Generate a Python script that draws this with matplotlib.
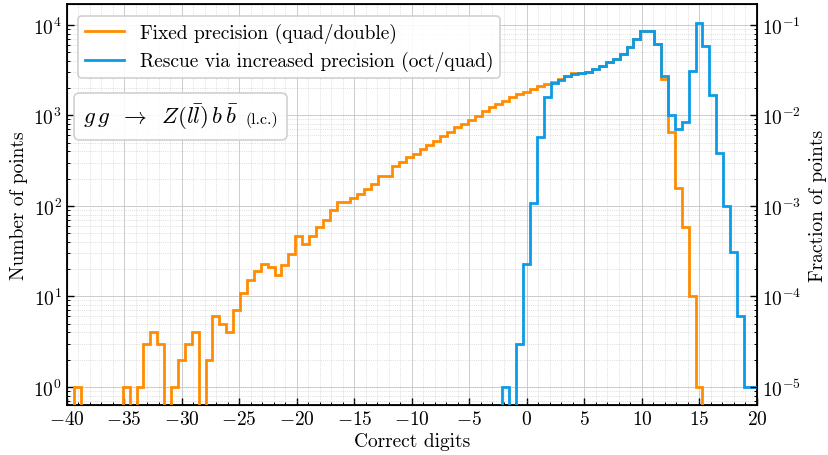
import numpy as np
import matplotlib
matplotlib.use("Agg")
import matplotlib.pyplot as plt
from matplotlib.offsetbox import TextArea, HPacker, AnchoredOffsetbox

plt.rcParams['font.family'] = ['cmr10', 'DejaVu Serif']
plt.rcParams['mathtext.fontset'] = 'cm'
plt.rcParams['axes.formatter.use_mathtext'] = True
plt.rcParams['axes.unicode_minus'] = True

# ---- data -------------------------------------------------------------
bin_lo = -39.33
bin_width = 0.6

fixed_counts = [
    1, 0, 0, 0, 0, 0, 0, 1, 0, 1,
    3, 4, 3, 0, 1, 2, 3, 4, 0, 2,
    6, 5, 4, 7, 11, 15, 19, 23, 21, 17,
    22, 29, 46, 38, 47, 58, 69, 89, 110, 110,
    122, 136, 154, 173, 213, 213, 279, 304, 350, 375,
    423, 470, 527, 594, 662, 737, 805, 892, 995, 1130,
    1230, 1340, 1458, 1615, 1730, 1833, 1963, 2100, 2230, 2360,
    2530, 2750, 2920, 2960, 3050, 3250, 3550, 3870, 4200, 4780,
    5670, 7000, 8650, 8650, 6100, 2530, 655, 157, 58, 10,
    1, 0, 0, 0, 0, 0, 0, 0, 0,
]
rescue_counts = [
    0, 0, 0, 0, 0, 0, 0, 0, 0, 0,
    0, 0, 0, 0, 0, 0, 0, 0, 0, 0,
    0, 0, 0, 0, 0, 0, 0, 0, 0, 0,
    0, 0, 0, 0, 0, 0, 0, 0, 0, 0,
    0, 0, 0, 0, 0, 0, 0, 0, 0, 0,
    0, 0, 0, 0, 0, 0, 0, 0, 0, 0,
    0, 0, 1, 0, 3, 23, 108, 574, 1586, 2250,
    2450, 2690, 2900, 2950, 3050, 3250, 3550, 3870, 4200, 4780,
    5670, 7000, 8650, 8650, 6170, 2750, 1000, 700, 850, 3125,
    10520, 5820, 1686, 385, 99, 31, 6, 1, 1,
]
total_points = 1e5

labels = ["Fixed precision (quad/double)",
          "Rescue via increased precision (oct/quad)"]
colors = ["#ff8c00", "#0c9be6"]

edges = bin_lo + bin_width * np.arange(len(fixed_counts) + 1)

FS = 14

# ---- figure -----------------------------------------------------------
fig = plt.figure(figsize=(8.29, 4.56), dpi=100)
ax = fig.add_axes([0.0805, 0.109, 0.8325, 0.88])
ax.set_yscale('log', nonpositive='clip')

ax.stairs(fixed_counts, edges, baseline=0, color=colors[0], lw=2.0,
          label=labels[0], zorder=3)
ax.stairs(rescue_counts, edges, baseline=0, color=colors[1], lw=2.0,
          label=labels[1], zorder=4)

ylo, yhi = 0.625, 1.7e4
ax.set_xlim(-40, 20)
ax.set_ylim(ylo, yhi)
ax.set_xticks(np.arange(-40, 21, 5))
ax.xaxis.set_minor_locator(matplotlib.ticker.MultipleLocator(1))

ax.grid(True, which='major', color='#c4c4c4', lw=0.6, ls='-', zorder=0)
ax.grid(True, which='minor', color='#c8c8c8', lw=0.5, ls=':', zorder=0)

ax.tick_params(which='both', direction='in', labelsize=FS)
ax.tick_params(which='major', length=5, width=1.0)
ax.tick_params(which='minor', length=2.5, width=0.7)
for s in ax.spines.values():
    s.set_linewidth(1.3)

ax.set_xlabel("Correct digits", fontsize=FS, labelpad=3)
ax.set_ylabel("Number of points", fontsize=FS, labelpad=4)

ax2 = ax.twinx()
ax2.set_yscale('log')
ax2.set_ylim(ylo / total_points, yhi / total_points)
ax2.tick_params(which='both', direction='in', labelsize=FS)
ax2.tick_params(which='major', length=5, width=1.0)
ax2.tick_params(which='minor', length=2.5, width=0.7)
ax2.set_ylabel("Fraction of points", fontsize=FS, labelpad=6)

leg = ax.legend(loc='upper left', bbox_to_anchor=(0.0, 1.0), fontsize=FS,
                frameon=True, fancybox=True, framealpha=0.9,
                edgecolor='#cccccc', handlelength=2.0, borderaxespad=0.6,
                labelspacing=0.45, borderpad=0.35)
leg.get_frame().set_linewidth(1.2)
leg.set_zorder(10)

t1 = TextArea(r"$g\,g\;\;\rightarrow\;\;Z(l\bar{l})\,b\,\bar{b}$",
              textprops=dict(fontsize=16.5))
t2 = TextArea("(l.c.)", textprops=dict(fontsize=11.5))
pack = HPacker(children=[t1, t2], align='baseline', pad=0, sep=5)
anch = AnchoredOffsetbox(loc='upper left', child=pack, pad=0.45,
                         frameon=True, bbox_to_anchor=(0.015, 0.772),
                         bbox_transform=ax.transAxes, borderpad=0)
anch.patch.set_boxstyle("round,pad=0.2,rounding_size=0.4")
anch.patch.set_edgecolor('#cccccc')
anch.patch.set_linewidth(1.2)
anch.patch.set_alpha(0.9)
anch.set_zorder(10)
ax.add_artist(anch)

fig.savefig("out.png", dpi=100)
